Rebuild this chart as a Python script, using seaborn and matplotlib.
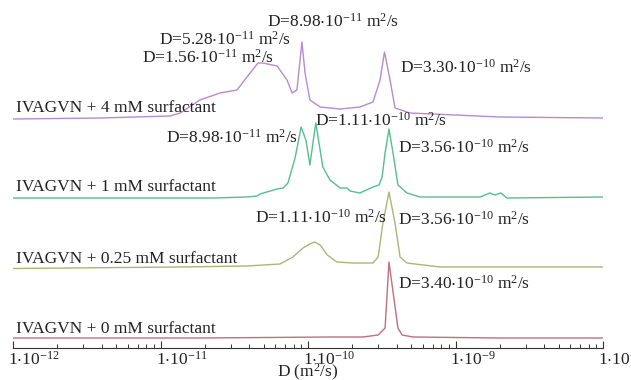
import numpy as np
import pandas as pd
import matplotlib
matplotlib.use("Agg")
import matplotlib.pyplot as plt
import matplotlib.ticker as mticker
import matplotlib.transforms as mtransforms
import seaborn as sns

# Diffusion coefficient grids (m^2/s) and intensities above each baseline
d_0mM = [1.00e-12, 1.85e-11, 1.41e-10, 2.36e-10, 2.99e-10, 3.33e-10, 3.54e-10,
         4.07e-10, 4.34e-10, 5.15e-10, 2.00e-09, 1.00e-08]
i_0mM = [0, 0, 1, 1, 3, 10, 76, 10, 3, 1, 0, 0]

d_025mM = [1.00e-12, 1.36e-11, 3.85e-11, 6.45e-11, 7.91e-11, 9.24e-11, 1.03e-10,
           1.11e-10, 1.21e-10, 1.35e-10, 1.57e-10, 2.02e-10, 2.76e-10, 2.99e-10,
           3.22e-10, 3.54e-10, 3.89e-10, 4.21e-10, 4.69e-10, 7.85e-10, 1.00e-08]
i_025mM = [-1.5, 0, 1, 3, 10, 19, 23, 25, 22, 12, 5, 4, 4, 10, 44, 75, 44, 10, 4, 0, 0]

d_1mM = [1.00e-12, 2.27e-11, 3.85e-11, 4.51e-11, 4.73e-11, 6.17e-11, 6.78e-11,
         7.31e-11, 8.17e-11, 8.98e-11, 9.68e-11, 1.03e-10, 1.08e-10, 1.13e-10,
         1.17e-10, 1.26e-10, 1.41e-10, 1.65e-10, 1.84e-10, 1.93e-10, 2.25e-10,
         2.76e-10, 3.03e-10, 3.18e-10, 3.33e-10, 3.54e-10, 3.77e-10, 4.07e-10,
         4.69e-10, 5.74e-10, 1.47e-09, 1.71e-09, 1.85e-09, 2.03e-09, 2.23e-09, 1.00e-08]
i_1mM = [0, 0, 1, 2, 4, 9, 10, 15, 40, 71, 58, 33, 55, 75, 61, 31, 18, 10, 10, 7,
         5, 11, 13, 21, 45, 69, 45, 13, 5, 1, 1, 5, 3, 5, 0, 1]

d_4mM = [1.00e-12, 3.89e-12, 1.16e-11, 1.36e-11, 1.85e-11, 2.53e-11, 3.30e-11,
         4.05e-11, 4.58e-11, 4.95e-11, 6.17e-11, 7.21e-11, 7.80e-11, 8.41e-11,
         9.10e-11, 9.55e-11, 1.03e-10, 1.21e-10, 1.65e-10, 2.25e-10, 2.76e-10,
         3.08e-10, 3.30e-10, 3.60e-10, 3.89e-10, 4.92e-10, 2.00e-09, 1.00e-08]
i_4mM = [0, 1, 3, 6, 19, 26, 29, 46, 56, 56, 53, 39, 26, 29, 77, 46, 19, 12, 10,
         12, 17, 39, 67, 39, 11, 6, 2, 1]

samples = ["0 mM", "0.25 mM", "1 mM", "4 mM"]
offsets = [10, 81, 150, 229]
colors = ["#bf6f7d", "#adb478", "#55bf8e", "#b68bd2"]

frames = []
for name, d, inten, off in zip(samples, [d_0mM, d_025mM, d_1mM, d_4mM],
                               [i_0mM, i_025mM, i_1mM, i_4mM], offsets):
    frames.append(pd.DataFrame({"D": d, "y": np.array(inten) + off, "sample": name}))
df = pd.concat(frames, ignore_index=True)

sns.set_style("white")
plt.rcParams["font.family"] = ["Liberation Serif", "DejaVu Serif"]
plt.rcParams["mathtext.fontset"] = "custom"
plt.rcParams["mathtext.rm"] = "Liberation Serif"
plt.rcParams["mathtext.it"] = "Liberation Serif:italic"
plt.rcParams["mathtext.default"] = "regular"

fig = plt.figure(figsize=(6.31, 3.80), dpi=100)
ax = fig.add_axes([13 / 631, 32 / 380, 590 / 631, 348 / 380])

sns.lineplot(data=df, x="D", y="y", hue="sample", palette=colors, hue_order=samples,
             estimator=None, sort=False, lw=1.0, legend=False, ax=ax)

ax.set_xscale("log")
ax.set_xlim(1e-12, 1e-8)
ax.set_ylim(0, 348)
ax.set_yticks([])
ax.set_ylabel("")
for s in ["left", "top", "right"]:
    ax.spines[s].set_visible(False)
ax.spines["bottom"].set_color("#333333")
ax.spines["bottom"].set_linewidth(0.8)

ax.xaxis.set_major_locator(mticker.LogLocator(base=10, numticks=20))
ax.xaxis.set_minor_locator(mticker.LogLocator(base=10, subs=np.arange(2, 10), numticks=50))
ax.xaxis.set_minor_formatter(mticker.NullFormatter())
ax.xaxis.set_major_formatter(mticker.FuncFormatter(
    lambda v, p: r"1$\cdot$10$^{%d}$" % round(np.log10(v))))
ax.tick_params(axis="x", which="both", bottom=True)
ax.tick_params(axis="x", which="major", direction="in", length=5, width=0.8,
               color="#333333", labelsize=12.5, labelcolor="#222222", pad=2)
ax.tick_params(axis="x", which="minor", direction="in", length=3, width=0.7,
               color="#333333")
# tick labels start at the tick, as in the original
shift = mtransforms.ScaledTranslation(-5 / 100, 0, fig.dpi_scale_trans)
for lab in ax.get_xticklabels():
    lab.set_horizontalalignment("left")
    lab.set_transform(lab.get_transform() + shift)
ax.set_xlabel(r"D (m$^2$/s)", fontsize=12.5, color="#222222", labelpad=-5)

txt = dict(fontsize=12.5, color="#222222", ha="left", va="baseline")
# sample labels
ax.text(1.05e-12, 236.5, "IVAGVN + 4 mM surfactant", **txt)
ax.text(1.05e-12, 157, "IVAGVN + 1 mM surfactant", **txt)
ax.text(1.05e-12, 85, "IVAGVN + 0.25 mM surfactant", **txt)
ax.text(1.05e-12, 15.3, "IVAGVN + 0 mM surfactant", **txt)

# peak labels
ax.text(5.27e-11, 321, r"D=8.98$\cdot$10$^{-11}$ m$^2$/s", **txt)
ax.text(9.77e-12, 303, r"D=5.28$\cdot$10$^{-11}$ m$^2$/s", **txt)
ax.text(7.49e-12, 285, r"D=1.56$\cdot$10$^{-11}$ m$^2$/s", **txt)
ax.text(4.21e-10, 275, r"D=3.30$\cdot$10$^{-10}$ m$^2$/s", **txt)
ax.text(1.09e-11, 205, r"D=8.98$\cdot$10$^{-11}$ m$^2$/s", **txt)
ax.text(1.11e-10, 222.5, r"D=1.11$\cdot$10$^{-10}$ m$^2$/s", **txt)
ax.text(4.07e-10, 195, r"D=3.56$\cdot$10$^{-10}$ m$^2$/s", **txt)
ax.text(4.38e-11, 125, r"D=1.11$\cdot$10$^{-10}$ m$^2$/s", **txt)
ax.text(4.07e-10, 123, r"D=3.56$\cdot$10$^{-10}$ m$^2$/s", **txt)
ax.text(4.07e-10, 59, r"D=3.40$\cdot$10$^{-10}$ m$^2$/s", **txt)

fig.savefig("out.png", dpi=100)
